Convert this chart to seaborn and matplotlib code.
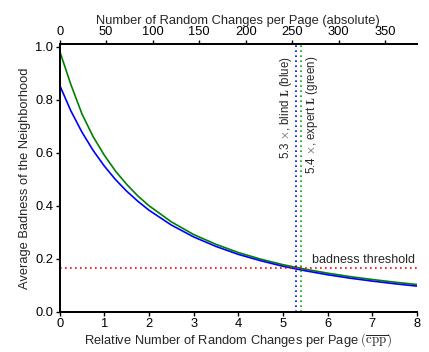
import matplotlib
matplotlib.use("Agg")
import matplotlib.pyplot as plt
import seaborn as sns
import pandas as pd

# Relative number of random changes per page
rel_x = [0, 0.25, 0.5, 0.75, 1.0, 1.25, 1.5, 1.75, 2.0, 2.5, 3.0, 3.5, 4.0,
         4.5, 5.0, 5.5, 6.0, 6.5, 7.0, 7.5, 8.0]
# expert L (green)
expert_vals = [0.985, 0.859, 0.747, 0.661, 0.591, 0.531, 0.481, 0.437, 0.400,
               0.339, 0.291, 0.254, 0.223, 0.198, 0.177, 0.160, 0.145, 0.132,
               0.121, 0.111, 0.102]
# blind L (blue)
blind_vals = [0.856, 0.759, 0.678, 0.609, 0.550, 0.499, 0.455, 0.417, 0.383,
              0.327, 0.282, 0.246, 0.216, 0.192, 0.171, 0.154, 0.139, 0.126,
              0.115, 0.105, 0.096]

blind_cross = 5.3
expert_cross = 5.4
threshold = 0.165
abs_per_rel = 48  # absolute changes per relative unit

df = pd.DataFrame({
    "x": rel_x * 2,
    "y": blind_vals + expert_vals,
    "series": ["blind"] * len(rel_x) + ["expert"] * len(rel_x),
})

sns.set_theme(style="ticks")
plt.rcParams["font.family"] = ["Liberation Sans", "DejaVu Sans"]
plt.rcParams["mathtext.fontset"] = "cm"
plt.rcParams["xtick.direction"] = "out"
plt.rcParams["ytick.direction"] = "out"

fig = plt.figure(figsize=(4.29, 3.52), dpi=100)
ax = fig.add_axes([0.139, 0.115, 0.833, 0.759])

sns.lineplot(data=df, x="x", y="y", hue="series",
             palette={"blind": "#0000ff", "expert": "#008000"},
             hue_order=["expert", "blind"],
             linewidth=1.2, legend=False, ax=ax)

ax.axhline(threshold, color="#ff0000", linestyle=(0, (1, 2)), linewidth=1.2)
ax.axvline(blind_cross, color="#0000ff", linestyle=(0, (1, 2)), linewidth=1.2)
ax.axvline(expert_cross, color="#00aa00", linestyle=(0, (1, 2)), linewidth=1.2)

fs = 9.3
ax.text(blind_cross - 0.06, 0.965, r"5.3 $\times$, blind $\mathbf{L}$ (blue)",
        rotation=90, ha="right", va="top", fontsize=8.3)
ax.text(expert_cross + 0.06, 0.965, r"5.4 $\times$, expert $\mathbf{L}$ (green)",
        rotation=90, ha="left", va="top", fontsize=8.3)
ax.text(7.95, threshold + 0.008, "badness threshold", ha="right", va="bottom",
        fontsize=fs - 0.3)

ax.set_xlim(0, 8)
ax.set_ylim(0, 1.01)
ax.set_yticks([0.0, 0.2, 0.4, 0.6, 0.8, 1.0])
ax.set_xticks(range(0, 9))
ax.set_xlabel(r"Relative Number of Random Changes per Page $(\overline{\mathrm{cpp}})$",
              fontsize=fs, labelpad=1)
ax.set_ylabel("Average Badness of the Neighborhood", fontsize=fs, labelpad=3)
ax.tick_params(labelsize=fs, length=3, width=1, pad=1.5, colors="black")

ax2 = ax.twiny()
ax2.set_xlim(0, 8 * abs_per_rel)
ax2.set_xticks(range(0, 351, 50))
ax2.set_xlabel("Number of Random Changes per Page (absolute)", fontsize=fs, labelpad=1.5)
ax2.tick_params(labelsize=fs, length=3, width=1, pad=1.5, colors="black")

for a in (ax, ax2):
    a.spines["right"].set_visible(False)
    for s in ("left", "bottom", "top"):
        a.spines[s].set_linewidth(1.3)
        a.spines[s].set_color("black")

fig.savefig("out.png", dpi=100)
